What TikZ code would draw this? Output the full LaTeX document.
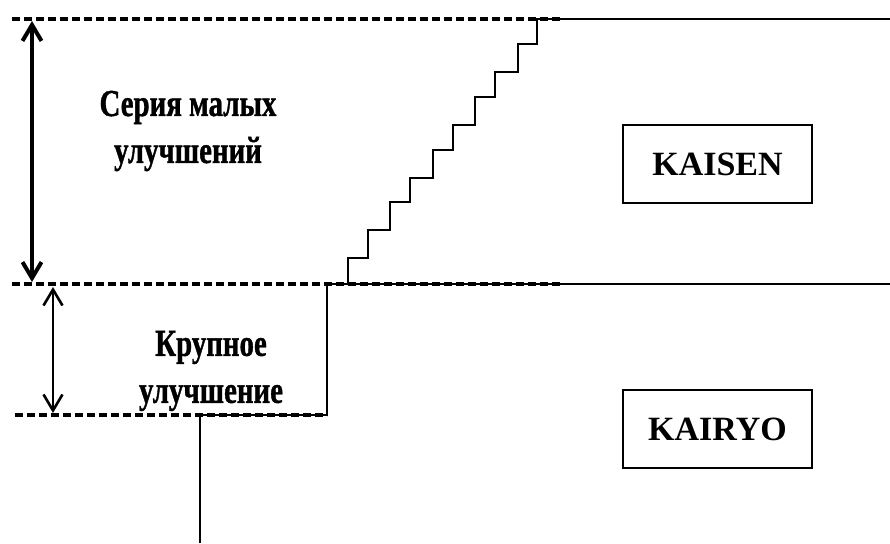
\documentclass[tikz,border=0pt]{standalone}
\usepackage{fontspec}
\setmainfont{Liberation Serif}
\newfontfamily\heavyfont[FakeBold=1.2]{Liberation Serif Bold}
\usetikzlibrary{arrows.meta}
\begin{document}
\begin{tikzpicture}[x=1pt,y=-1pt,
  dashline/.style={line width=3.2pt, dash pattern=on 8pt off 4pt},
  solidline/.style={line width=2pt},
  txt/.style={font=\heavyfont\fontsize{38}{47}\selectfont, align=center, inner sep=0pt},
  boxnode/.style={draw, line width=1.8pt, minimum width=189pt, minimum height=78pt, inner sep=0pt,
    font=\bfseries\fontsize{34}{36}\selectfont},
  dimarrow/.style={line width=#1, {Straight Barb[length=16pt,width=19pt]}-{Straight Barb[length=16pt,width=19pt]}}]
\useasboundingbox[fill=white] (0,0) rectangle (890,543);
% level coordinates
\coordinate (tl) at (12,19);  \coordinate (tr) at (560,19);
\coordinate (ml) at (12,284); \coordinate (mr) at (560,284);
\coordinate (bl) at (15,415); \coordinate (br) at (327,415);
\coordinate (topR) at (890,19); \coordinate (midR) at (890,284);
\coordinate (jump) at (327,284);
\coordinate (low) at (200,415); \coordinate (lowEnd) at (200,543);
% dashed levels
\draw[dashline] (tl) -- (tr);
\draw[dashline] (ml) -- (mr);
\draw[dashline] (bl) -- (br);
% solid process line
\draw[solidline] (lowEnd) -- (low) -- (br) -- (jump) -- (midR);
\draw[solidline] (348,284) -- (348,258) -- (368,258) -- (368,230) -- (390,230) -- (390,202)
  -- (410,202) -- (410,178) -- (433,178) -- (433,150) -- (453,150) -- (453,125)
  -- (475,125) -- (475,97) -- (495,97) -- (495,72) -- (518,72) -- (518,44)
  -- (537,44) -- (537,19) -- (topR);
% dimension arrows
\coordinate (a1t) at (32,21); \coordinate (a1b) at (32,282);
\coordinate (a2t) at (53,287); \coordinate (a2b) at (53,413);
\draw[dimarrow=4pt] (a1t) -- (a1b);
\draw[dimarrow=2.6pt] (a2t) -- (a2b);
% labels
\node[txt] (small) at (188,131) {\scalebox{0.76}[1]{Серия малых}\\\scalebox{0.76}[1]{улучшений}};
\node[txt] (big) at (211,371) {\scalebox{0.76}[1]{Крупное}\\\scalebox{0.76}[1]{улучшение}};
\node[boxnode] (kaisen) at (717.5,164) {KAISEN};
\node[boxnode] (kairyo) at (717.5,429) {KAIRYO};
\end{tikzpicture}
\end{document}
